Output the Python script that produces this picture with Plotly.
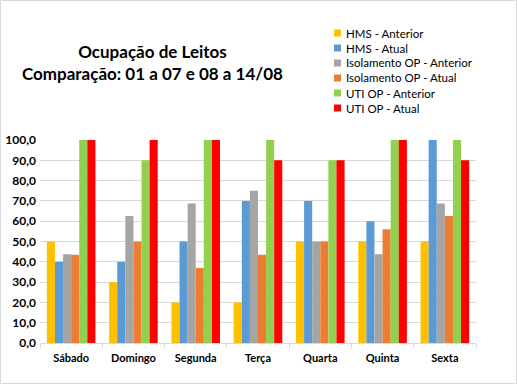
import plotly.graph_objects as go

days = ["Sábado", "Domingo", "Segunda", "Terça", "Quarta", "Quinta", "Sexta"]
series_names = ["HMS - Anterior", "HMS - Atual", "Isolamento OP - Anterior",
                "Isolamento OP - Atual", "UTI OP - Anterior", "UTI OP - Atual"]
hms_anterior = [50, 30, 20, 20, 50, 50, 50]
hms_atual = [40, 40, 50, 70, 70, 60, 100]
iso_anterior = [43.75, 62.5, 68.75, 75, 50, 43.75, 68.75]
iso_atual = [43.5, 50, 37, 43.5, 50, 56, 62.5]
uti_anterior = [100, 90, 100, 100, 90, 100, 100]
uti_atual = [100, 100, 100, 90, 90, 100, 90]
colors = ["#FFC000", "#5B9BD5", "#A5A5A5", "#ED7D31", "#92D050", "#FF0000"]
y_ticks = [0, 10, 20, 30, 40, 50, 60, 70, 80, 90, 100]

values = [hms_anterior, hms_atual, iso_anterior, iso_atual, uti_anterior, uti_atual]

W, H = 517, 384
ML, MR, MT, MB = 40, 41, 140, 41
PW, PH = W - ML - MR, H - MT - MB


def px_x(px):
    return (px - ML) / PW


def px_y(py):
    return (H - MB - py) / PH


fig = go.Figure()
for name, vals, c in zip(series_names, values, colors):
    fig.add_trace(go.Bar(x=days, y=vals, name=name, showlegend=False,
                         marker=dict(color=c, line=dict(width=0))))

font_main = "Lato, 'Open Sans', sans-serif"

# legend drawn as small squares + text
shapes = [dict(type="rect", xref="paper", yref="paper", x0=px_x(0.5), x1=px_x(W - 0.5),
               y0=px_y(H - 0.5), y1=px_y(0.5), line=dict(color="#D9D9D9", width=1), layer="below")]
annotations = [dict(text="<b>Ocupação de Leitos<br>Comparação: 01 a 07 e 08 a 14/08</b>",
                    xref="paper", yref="paper", x=px_x(152), y=px_y(39), xanchor="center", yanchor="top",
                    showarrow=False, font=dict(size=17, family=font_main, color="#000000"),
                    align="center")]
for i, (name, c) in enumerate(zip(series_names, colors)):
    cy = 33 + 15 * i
    shapes.append(dict(type="rect", xref="paper", yref="paper", x0=px_x(334), x1=px_x(341),
                       y0=px_y(cy + 3.5), y1=px_y(cy - 3.5), fillcolor=c, line=dict(width=0)))
    annotations.append(dict(text=name, xref="paper", yref="paper", x=px_x(344), y=px_y(cy),
                            xanchor="left", yanchor="middle", showarrow=False,
                            font=dict(size=11.5, family=font_main, color="#000000")))

fig.update_layout(
    width=W, height=H,
    paper_bgcolor="white", plot_bgcolor="white",
    separators=",.",
    barmode="group", bargap=0.22, bargroupgap=0,
    margin=dict(l=ML, r=MR, t=MT, b=MB),
    font=dict(family=font_main, size=11, color="#000000"),
    showlegend=False,
    annotations=annotations,
    shapes=shapes,
)
fig.update_yaxes(range=[0, 100], tickvals=y_ticks,
                 ticktext=["<b>%s</b>" % (f"{v:.1f}".replace(".", ",")) for v in y_ticks],
                 showgrid=True, gridcolor="#D9D9D9", gridwidth=1, zeroline=False, showline=False,
                 tickfont=dict(size=12, family=font_main), ticks="", ticklabelstandoff=3,
                 automargin=False)
fig.update_xaxes(tickvals=days, ticktext=["<b>" + d + "</b>" for d in days],
                 showline=True, linecolor="#D9D9D9", ticks="outside", tickcolor="#D9D9D9",
                 ticklen=4, tickson="boundaries", tickfont=dict(size=11, family=font_main),
                 ticklabelstandoff=5, automargin=False)

fig.write_html("out.html", config={"displayModeBar": False},
               post_script="document.body.style.margin='0';")
